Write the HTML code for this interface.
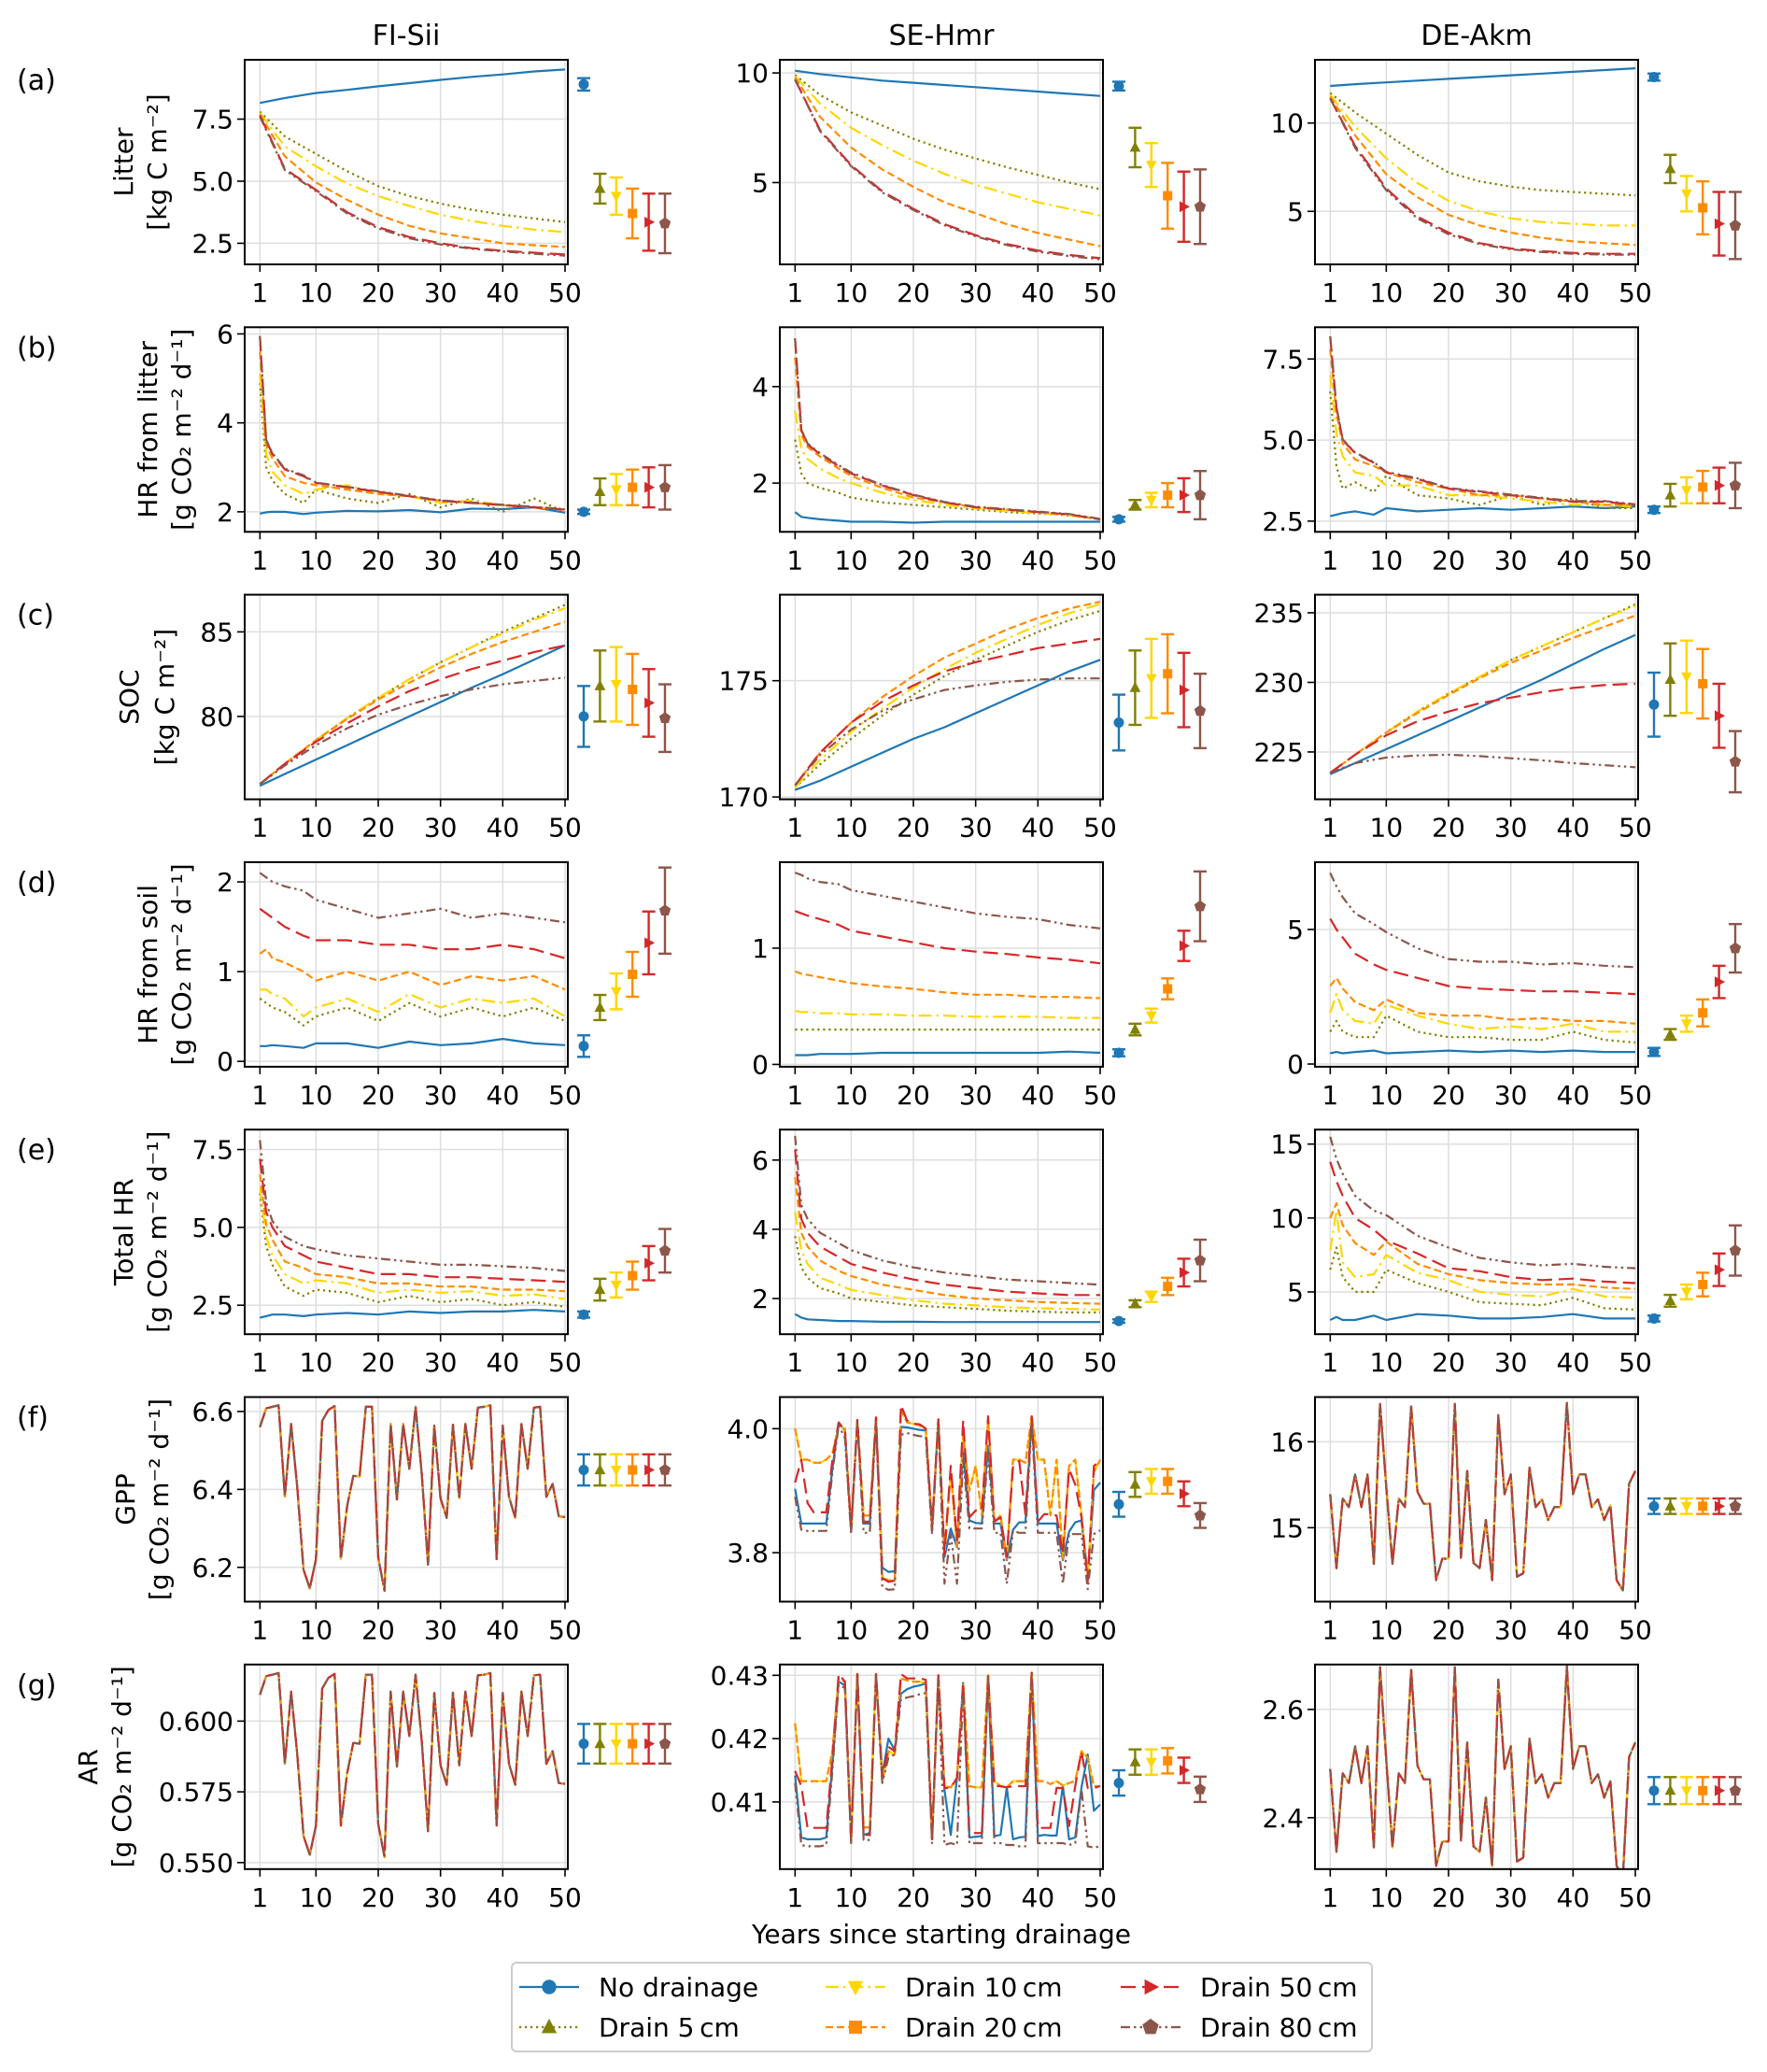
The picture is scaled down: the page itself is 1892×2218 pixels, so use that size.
<!DOCTYPE html>
<html><head><meta charset="utf-8"><title>Drainage simulations</title>
<style>
html,body{margin:0;padding:0;background:#fff;}
svg{display:block;font-family:"DejaVu Sans","Liberation Sans",sans-serif;}
</style></head>
<body>
<svg id="fig" xmlns="http://www.w3.org/2000/svg" width="1892" height="2218" viewBox="0 0 1892 2218">
<rect x="0" y="0" width="1892" height="2218" fill="#fff"/>
<g id="panels"></g>
<text x="1008" y="2080" font-size="28" text-anchor="middle">Years since starting drainage</text>
<g>
<rect x="548" y="2101" width="921" height="95" rx="5" fill="#fff" stroke="#ccc" stroke-width="2"/>
<g id="legendItems"></g>
</g>
</svg>
<script>
const years=[1,2,3,4,5,6,7,8,9,10,11,12,13,14,15,16,17,18,19,20,21,22,23,24,25,26,27,28,29,30,31,32,33,34,35,36,37,38,39,40,41,42,43,44,45,46,47,48,49,50];
const yrsS=[1,5,10,15,20,25,30,35,40,45,50];
const yrsH=[1,2,3,5,8,10,15,20,25,30,35,40,45,50];
const seriesNames=["No drainage","Drain 5cm","Drain 10cm","Drain 20cm","Drain 50cm","Drain 80cm"];

// (a) Litter
const litFI_none=[8.15,8.35,8.55,8.68,8.82,8.95,9.08,9.2,9.3,9.42,9.5];
const litFI_d5=[7.8,6.8,6.1,5.4,4.8,4.4,4.1,3.85,3.65,3.5,3.35];
const litFI_d10=[7.75,6.4,5.6,4.9,4.4,4.0,3.65,3.4,3.2,3.05,2.95];
const litFI_d20=[7.7,6.0,4.95,4.25,3.65,3.2,2.9,2.7,2.5,2.42,2.35];
const litFI_d50=[7.65,5.5,4.65,3.75,3.15,2.75,2.5,2.3,2.2,2.12,2.05];
const litFI_d80=[7.6,5.45,4.6,3.7,3.1,2.7,2.45,2.28,2.17,2.08,2.0];
const litFI_mean=[8.9,4.7,4.4,3.7,3.35,3.3];
const litFI_err=[0.25,0.6,0.75,1.0,1.15,1.2];
const litSE_none=[10.1,9.95,9.8,9.65,9.55,9.45,9.35,9.25,9.15,9.05,8.95];
const litSE_d5=[9.9,9.0,8.2,7.6,7.0,6.5,6.1,5.7,5.35,5.0,4.7];
const litSE_d10=[9.85,8.6,7.5,6.7,6.0,5.4,4.9,4.5,4.1,3.8,3.5];
const litSE_d20=[9.8,8.0,6.6,5.6,4.8,4.1,3.6,3.1,2.7,2.4,2.1];
const litSE_d50=[9.7,7.4,5.8,4.6,3.8,3.1,2.6,2.2,1.9,1.7,1.55];
const litSE_d80=[9.7,7.35,5.75,4.55,3.75,3.05,2.55,2.15,1.85,1.65,1.5];
const litSE_mean=[9.4,6.6,5.8,4.4,3.9,3.9];
const litSE_err=[0.2,0.9,1.0,1.5,1.6,1.7];
const litDE_none=[12.1,12.2,12.3,12.4,12.5,12.6,12.7,12.8,12.9,13.0,13.1];
const litDE_d5=[11.7,10.6,9.4,8.2,7.2,6.7,6.4,6.2,6.1,6.0,5.9];
const litDE_d10=[11.6,9.8,8.0,6.6,5.6,5.0,4.6,4.4,4.3,4.2,4.2];
const litDE_d20=[11.5,9.3,7.1,5.8,4.8,4.2,3.8,3.5,3.3,3.2,3.1];
const litDE_d50=[11.4,8.7,6.3,4.7,3.8,3.2,2.9,2.75,2.65,2.6,2.6];
const litDE_d80=[11.4,8.6,6.2,4.6,3.7,3.15,2.85,2.7,2.6,2.55,2.55];
const litDE_mean=[12.6,7.4,6.0,5.2,4.3,4.2];
const litDE_err=[0.2,0.8,1.0,1.5,1.8,1.9];

// (b) HR from litter
const hrlFI_none=[1.96,1.99,2.0,2.0,1.95,1.98,2.02,2.01,2.04,1.99,2.07,2.06,2.1,1.98];
const hrlFI_d5=[4.9,3.0,2.7,2.4,2.2,2.5,2.3,2.2,2.4,2.1,2.3,2.0,2.3,2.0];
const hrlFI_d10=[5.1,3.3,2.9,2.6,2.4,2.5,2.6,2.4,2.35,2.2,2.25,2.15,2.1,2.05];
const hrlFI_d20=[5.6,3.5,3.2,2.8,2.65,2.6,2.5,2.4,2.35,2.25,2.2,2.15,2.1,2.05];
const hrlFI_d50=[5.95,3.6,3.3,2.95,2.8,2.65,2.55,2.45,2.35,2.25,2.2,2.15,2.1,2.05];
const hrlFI_d80=[5.95,3.62,3.32,2.97,2.82,2.66,2.56,2.46,2.36,2.26,2.21,2.16,2.11,2.06];
const hrlFI_mean=[2.0,2.45,2.5,2.55,2.55,2.55];
const hrlFI_err=[0.05,0.3,0.35,0.4,0.45,0.5];
const hrlSE_none=[1.4,1.3,1.28,1.25,1.22,1.2,1.2,1.18,1.2,1.2,1.2,1.2,1.2,1.2];
const hrlSE_d5=[2.9,2.2,2.0,1.9,1.8,1.7,1.6,1.55,1.5,1.45,1.4,1.37,1.33,1.25];
const hrlSE_d10=[3.5,2.7,2.5,2.3,2.1,2.0,1.8,1.65,1.55,1.48,1.42,1.38,1.33,1.25];
const hrlSE_d20=[4.6,3.0,2.75,2.55,2.3,2.15,1.9,1.7,1.6,1.5,1.45,1.4,1.35,1.25];
const hrlSE_d50=[5.0,3.1,2.8,2.6,2.35,2.2,1.95,1.75,1.6,1.5,1.45,1.4,1.35,1.25];
const hrlSE_d80=[5.0,3.12,2.82,2.62,2.37,2.22,1.96,1.76,1.61,1.51,1.46,1.41,1.36,1.26];
const hrlSE_mean=[1.25,1.55,1.65,1.75,1.75,1.75];
const hrlSE_err=[0.05,0.1,0.15,0.25,0.35,0.5];
const hrlDE_none=[2.65,2.7,2.75,2.8,2.7,2.9,2.8,2.85,2.9,2.85,2.9,2.95,2.9,2.95];
const hrlDE_d5=[6.5,4.2,3.5,3.7,3.4,3.9,3.3,3.2,3.0,3.3,3.0,3.2,2.9,2.9];
const hrlDE_d10=[7.0,5.2,4.5,4.0,3.9,3.6,3.6,3.3,3.3,3.2,3.1,3.0,3.0,2.95];
const hrlDE_d20=[7.8,5.8,4.9,4.4,4.2,4.0,3.7,3.5,3.3,3.3,3.2,3.1,3.0,3.0];
const hrlDE_d50=[8.2,6.0,5.0,4.6,4.3,4.0,3.8,3.5,3.4,3.3,3.2,3.1,3.1,3.0];
const hrlDE_d80=[8.2,6.02,5.02,4.62,4.32,4.02,3.82,3.52,3.42,3.32,3.22,3.12,3.12,3.02];
const hrlDE_mean=[2.85,3.3,3.45,3.55,3.6,3.6];
const hrlDE_err=[0.1,0.35,0.4,0.5,0.55,0.7];

// (c) SOC
const socFI_none=[75.9,76.6,77.45,78.3,79.15,80.0,80.85,81.7,82.5,83.35,84.2];
const socFI_d5=[76.0,77.2,78.6,79.9,81.1,82.2,83.2,84.1,85.0,85.8,86.6];
const socFI_d10=[76.0,77.2,78.6,79.9,81.1,82.2,83.2,84.1,84.9,85.7,86.4];
const socFI_d20=[76.0,77.2,78.6,79.85,81.0,82.0,82.9,83.7,84.4,85.0,85.6];
const socFI_d50=[76.0,77.2,78.5,79.6,80.6,81.5,82.2,82.8,83.3,83.8,84.2];
const socFI_d80=[76.0,77.1,78.3,79.3,80.1,80.7,81.2,81.6,81.9,82.1,82.3];
const socFI_mean=[80.0,81.8,81.9,81.6,80.8,79.9];
const socFI_err=[1.8,2.1,2.2,2.1,2.0,2.0];
const socSE_none=[170.3,170.7,171.3,171.9,172.5,173.0,173.6,174.2,174.8,175.4,175.9];
const socSE_d5=[170.4,171.4,172.5,173.5,174.4,175.2,175.9,176.5,177.1,177.6,178.0];
const socSE_d10=[170.4,171.6,172.8,173.8,174.7,175.5,176.2,176.8,177.4,177.9,178.3];
const socSE_d20=[170.5,171.9,173.2,174.3,175.2,176.0,176.6,177.2,177.7,178.1,178.4];
const socSE_d50=[170.5,171.9,173.2,174.1,174.8,175.4,175.8,176.1,176.4,176.6,176.8];
const socSE_d80=[170.5,171.8,172.9,173.7,174.2,174.6,174.8,174.95,175.05,175.1,175.1];
const socSE_mean=[173.2,174.7,175.1,175.3,174.6,173.7];
const socSE_err=[1.2,1.6,1.7,1.7,1.6,1.6];
const socDE_none=[223.4,224.2,225.2,226.2,227.2,228.2,229.2,230.2,231.3,232.4,233.4];
const socDE_d5=[223.5,224.8,226.4,227.9,229.2,230.4,231.6,232.6,233.6,234.6,235.6];
const socDE_d10=[223.5,224.8,226.4,227.9,229.2,230.4,231.6,232.6,233.6,234.6,235.5];
const socDE_d20=[223.5,224.8,226.4,227.8,229.1,230.3,231.4,232.3,233.2,234.0,234.8];
const socDE_d50=[223.5,224.8,226.2,227.2,227.9,228.5,228.9,229.3,229.6,229.8,229.9];
const socDE_d80=[223.5,224.2,224.6,224.75,224.8,224.7,224.55,224.4,224.2,224.05,223.9];
const socDE_mean=[228.4,230.2,230.4,229.9,227.6,224.3];
const socDE_err=[2.3,2.6,2.6,2.5,2.3,2.2];

// (d) HR from soil
const hrsFI_none=[0.17,0.17,0.18,0.17,0.15,0.2,0.2,0.15,0.22,0.18,0.2,0.25,0.2,0.18];
const hrsFI_d5=[0.7,0.65,0.6,0.55,0.4,0.5,0.6,0.45,0.65,0.5,0.6,0.5,0.6,0.45];
const hrsFI_d10=[0.8,0.8,0.75,0.7,0.5,0.6,0.7,0.55,0.75,0.6,0.7,0.65,0.7,0.5];
const hrsFI_d20=[1.2,1.25,1.15,1.1,1.0,0.9,1.0,0.9,1.0,0.85,0.95,0.9,0.95,0.8];
const hrsFI_d50=[1.7,1.65,1.6,1.5,1.4,1.35,1.35,1.3,1.3,1.25,1.25,1.3,1.25,1.15];
const hrsFI_d80=[2.1,2.05,2.0,1.95,1.9,1.8,1.7,1.6,1.65,1.7,1.6,1.65,1.6,1.55];
const hrsFI_mean=[0.17,0.6,0.78,0.97,1.32,1.68];
const hrsFI_err=[0.12,0.14,0.2,0.25,0.35,0.48];
const hrsSE_none=[0.08,0.08,0.08,0.09,0.09,0.09,0.1,0.1,0.1,0.1,0.1,0.1,0.11,0.1];
const hrsSE_d5=[0.3,0.3,0.3,0.3,0.3,0.3,0.3,0.3,0.3,0.3,0.3,0.3,0.3,0.3];
const hrsSE_d10=[0.46,0.45,0.45,0.44,0.44,0.43,0.43,0.42,0.42,0.41,0.41,0.41,0.4,0.4];
const hrsSE_d20=[0.8,0.78,0.77,0.75,0.72,0.7,0.67,0.65,0.62,0.6,0.6,0.58,0.58,0.57];
const hrsSE_d50=[1.32,1.3,1.28,1.25,1.2,1.15,1.1,1.05,1.0,0.97,0.95,0.92,0.9,0.87];
const hrsSE_d80=[1.65,1.63,1.6,1.57,1.55,1.5,1.45,1.4,1.35,1.3,1.27,1.25,1.2,1.17];
const hrsSE_mean=[0.1,0.3,0.42,0.65,1.02,1.36];
const hrsSE_err=[0.03,0.05,0.06,0.09,0.13,0.3];
const hrsDE_none=[0.4,0.45,0.4,0.45,0.5,0.4,0.45,0.5,0.45,0.5,0.45,0.5,0.45,0.45];
const hrsDE_d5=[1.2,1.6,1.2,1.0,1.0,1.8,1.2,1.0,1.0,0.9,0.9,1.2,0.9,0.8];
const hrsDE_d10=[1.9,2.6,2.0,1.6,1.5,2.2,1.8,1.5,1.3,1.4,1.3,1.5,1.2,1.2];
const hrsDE_d20=[2.9,3.2,2.8,2.3,2.0,2.4,1.9,1.8,1.8,1.65,1.7,1.6,1.6,1.5];
const hrsDE_d50=[5.4,5.0,4.7,4.1,3.7,3.5,3.2,2.9,2.8,2.75,2.7,2.7,2.65,2.6];
const hrsDE_d80=[7.1,6.6,6.2,5.6,5.2,4.9,4.3,3.9,3.8,3.8,3.7,3.75,3.65,3.6];
const hrsDE_mean=[0.45,1.1,1.5,1.9,3.05,4.3];
const hrsDE_err=[0.15,0.2,0.3,0.5,0.6,0.9];

// (e) Total HR
const thrFI_none=[2.1,2.15,2.2,2.2,2.15,2.2,2.25,2.2,2.3,2.25,2.3,2.3,2.35,2.3];
const thrFI_d5=[6.1,4.4,3.8,3.1,2.8,3.0,2.9,2.6,2.8,2.6,2.7,2.5,2.6,2.45];
const thrFI_d10=[6.3,4.7,4.1,3.5,3.2,3.3,3.2,2.9,3.0,2.9,2.95,2.8,2.85,2.7];
const thrFI_d20=[6.7,5.1,4.6,3.9,3.7,3.5,3.4,3.2,3.2,3.1,3.1,3.0,3.0,2.95];
const thrFI_d50=[7.2,5.5,5.0,4.4,4.1,3.9,3.7,3.5,3.5,3.4,3.4,3.35,3.3,3.25];
const thrFI_d80=[7.8,5.8,5.2,4.7,4.4,4.3,4.1,4.0,3.9,3.8,3.8,3.75,3.7,3.6];
const thrFI_mean=[2.2,3.0,3.15,3.45,3.85,4.25];
const thrFI_err=[0.1,0.35,0.4,0.45,0.55,0.7];
const thrSE_none=[1.55,1.45,1.4,1.38,1.35,1.35,1.33,1.33,1.32,1.32,1.32,1.32,1.32,1.32];
const thrSE_d5=[3.8,2.9,2.6,2.3,2.15,2.0,1.9,1.8,1.75,1.7,1.65,1.62,1.6,1.6];
const thrSE_d10=[4.5,3.4,3.0,2.6,2.4,2.25,2.1,1.95,1.85,1.8,1.75,1.72,1.7,1.68];
const thrSE_d20=[5.5,3.9,3.5,3.1,2.8,2.65,2.4,2.25,2.1,2.0,1.95,1.9,1.87,1.85];
const thrSE_d50=[6.3,4.3,3.9,3.5,3.2,3.0,2.75,2.55,2.4,2.3,2.2,2.15,2.1,2.1];
const thrSE_d80=[6.7,4.7,4.3,3.9,3.6,3.4,3.1,2.9,2.75,2.65,2.55,2.5,2.45,2.4];
const thrSE_mean=[1.35,1.85,2.05,2.35,2.75,3.1];
const thrSE_err=[0.05,0.1,0.15,0.25,0.4,0.6];
const thrDE_none=[3.1,3.3,3.1,3.1,3.4,3.1,3.5,3.4,3.2,3.2,3.3,3.5,3.2,3.2];
const thrDE_d5=[6.5,8.0,6.0,5.0,5.0,6.5,5.6,5.0,4.3,4.2,4.1,4.6,3.9,3.8];
const thrDE_d10=[7.8,10.5,7.0,6.0,6.2,7.5,6.3,5.8,5.0,4.8,4.7,5.2,4.7,4.6];
const thrDE_d20=[10.0,11.0,9.5,8.3,7.5,8.4,6.9,6.2,5.8,5.6,5.5,5.5,5.3,5.2];
const thrDE_d50=[13.8,12.5,11.5,10.0,9.2,8.5,7.6,6.6,6.4,6.0,5.8,5.9,5.7,5.6];
const thrDE_d80=[15.5,14.0,13.0,11.5,10.5,10.2,8.8,8.0,7.3,7.0,6.8,6.9,6.7,6.6];
const thrDE_mean=[3.2,4.4,5.0,5.5,6.5,7.8];
const thrDE_err=[0.2,0.4,0.5,0.8,1.1,1.7];

// (f) GPP
const gppFI=[6.56,6.608,6.612,6.616,6.382,6.568,6.405,6.194,6.146,6.221,6.576,6.604,6.614,6.221,6.357,6.435,6.433,6.612,6.612,6.225,6.14,6.568,6.374,6.568,6.453,6.612,6.437,6.207,6.564,6.377,6.327,6.566,6.377,6.568,6.453,6.61,6.612,6.616,6.221,6.564,6.381,6.327,6.568,6.453,6.61,6.612,6.381,6.414,6.331,6.329];
const gppFI_mean=[6.45,6.45,6.45,6.45,6.45,6.45];
const gppFI_err=[0.04,0.04,0.04,0.04,0.04,0.04];
const gppSE_none=[3.903,3.847,3.847,3.847,3.847,3.847,3.936,4.010,3.997,3.837,4.014,3.847,3.847,4.018,3.776,3.769,3.770,4.003,4.002,4.000,3.998,3.997,3.839,4.015,3.793,3.839,3.809,3.964,3.852,3.848,3.847,3.972,3.847,3.847,3.788,3.837,3.849,3.849,4.020,3.847,3.847,3.847,3.847,3.788,3.834,3.849,3.852,3.763,3.901,3.913];
const gppSE_dry=[4.000,3.950,3.950,3.945,3.945,3.950,3.960,4.005,4.000,3.840,4.014,3.860,3.860,4.018,3.760,3.755,3.755,4.030,4.010,4.008,4.005,4.000,3.840,4.015,3.800,3.930,3.810,3.990,3.900,3.940,3.860,4.015,3.850,3.860,3.790,3.950,3.950,3.945,4.020,3.950,3.950,3.860,3.950,3.790,3.940,3.950,3.860,3.760,3.930,3.950];
const gppSE_d50=[3.913,3.950,3.880,3.865,3.865,3.865,3.950,4.010,3.997,3.837,4.014,3.850,3.850,4.018,3.759,3.753,3.755,4.038,4.013,4.008,4.007,4.000,3.840,4.015,3.798,3.940,3.820,4.013,3.857,3.868,3.868,4.020,3.850,3.857,3.793,3.940,3.948,3.862,4.020,3.850,3.862,3.862,3.860,3.798,3.935,3.910,3.857,3.754,3.940,3.948];
const gppSE_d80=[3.890,3.837,3.835,3.835,3.835,3.835,3.930,4.005,3.985,3.830,4.010,3.832,3.832,4.010,3.745,3.740,3.741,3.990,3.993,3.990,3.988,3.987,3.830,4.010,3.750,3.830,3.750,3.950,3.839,3.839,3.839,3.960,3.832,3.832,3.750,3.835,3.832,3.832,4.010,3.832,3.832,3.832,3.832,3.750,3.830,3.830,3.830,3.741,3.830,3.836];
const gppSE_mean=[3.878,3.91,3.915,3.915,3.895,3.86];
const gppSE_err=[0.02,0.02,0.02,0.02,0.02,0.02];
const gppDE=[15.39,14.53,15.34,15.24,15.62,15.24,15.62,14.58,16.44,15.48,14.58,15.34,15.24,16.41,15.42,15.28,15.28,14.39,14.64,14.64,16.44,14.65,15.66,14.59,14.53,15.09,14.39,16.31,15.39,15.62,14.43,14.47,15.70,15.24,15.33,15.09,15.24,15.24,16.45,15.39,15.62,15.62,15.24,15.33,15.09,15.26,14.39,14.27,15.51,15.66];
const gppDE_mean=[15.25,15.25,15.25,15.25,15.25,15.25];
const gppDE_err=[0.09,0.09,0.09,0.09,0.09,0.09];

// (g) AR
const arFI=[0.6093,0.6159,0.6164,0.617,0.585,0.6104,0.5882,0.5594,0.5528,0.5631,0.6115,0.6153,0.6167,0.5631,0.5816,0.5923,0.592,0.6164,0.6164,0.5636,0.552,0.6104,0.5839,0.6104,0.5947,0.6164,0.5925,0.5611,0.6099,0.5844,0.5775,0.6101,0.5844,0.6104,0.5947,0.6162,0.6164,0.617,0.5631,0.6099,0.5849,0.5775,0.6104,0.5947,0.6162,0.6164,0.5849,0.5894,0.5781,0.5778];
const arFI_mean=[0.592,0.592,0.592,0.592,0.592,0.592];
const arFI_err=[0.007,0.007,0.007,0.007,0.007,0.007];
const arSE_none=[0.4142,0.4044,0.4041,0.4041,0.4041,0.4044,0.416,0.429,0.4284,0.4039,0.4302,0.4048,0.4051,0.4302,0.4142,0.420,0.4182,0.4271,0.4278,0.4282,0.4284,0.4287,0.4041,0.430,0.4119,0.4048,0.4138,0.4288,0.4044,0.4045,0.4046,0.430,0.4046,0.4048,0.4123,0.4041,0.4044,0.4045,0.4304,0.4046,0.4048,0.4047,0.4047,0.4126,0.4041,0.4044,0.4123,0.4175,0.4086,0.4096];
const arSE_dry=[0.4224,0.4133,0.4133,0.4133,0.4133,0.4133,0.418,0.4295,0.429,0.4039,0.4302,0.406,0.406,0.4302,0.4133,0.418,0.4175,0.4295,0.4292,0.429,0.429,0.4288,0.4041,0.430,0.4125,0.4123,0.4138,0.4288,0.4125,0.4123,0.4123,0.430,0.4133,0.4125,0.4123,0.4133,0.4133,0.4133,0.4304,0.4133,0.4133,0.4128,0.4133,0.4126,0.413,0.4133,0.418,0.417,0.4125,0.4125];
const arSE_d50=[0.4149,0.4125,0.4059,0.4059,0.4059,0.4059,0.417,0.4302,0.429,0.4039,0.4302,0.4048,0.4048,0.4302,0.4138,0.4187,0.418,0.4302,0.4295,0.4295,0.4295,0.4293,0.4041,0.430,0.4122,0.4122,0.4138,0.4288,0.4051,0.4051,0.4051,0.430,0.4125,0.4125,0.4123,0.4125,0.4125,0.4125,0.4304,0.4059,0.4059,0.4059,0.4122,0.4122,0.4062,0.4125,0.418,0.4122,0.4122,0.4125];
const arSE_d80=[0.413,0.4032,0.403,0.403,0.403,0.4032,0.415,0.4285,0.428,0.4035,0.4298,0.404,0.404,0.4298,0.413,0.417,0.4175,0.4262,0.4265,0.4267,0.427,0.4272,0.4035,0.4295,0.4032,0.4035,0.4032,0.428,0.4035,0.4035,0.4035,0.4298,0.4035,0.4035,0.4032,0.4032,0.403,0.403,0.430,0.4035,0.4035,0.4035,0.4035,0.4035,0.4032,0.4035,0.412,0.403,0.4028,0.403];
const arSE_mean=[0.413,0.4163,0.4163,0.4165,0.415,0.412];
const arSE_err=[0.002,0.002,0.002,0.002,0.002,0.002];
const arDE=[2.49,2.337,2.482,2.464,2.532,2.464,2.532,2.345,2.678,2.507,2.345,2.482,2.464,2.673,2.496,2.471,2.471,2.311,2.356,2.356,2.678,2.358,2.539,2.347,2.337,2.437,2.311,2.655,2.49,2.532,2.319,2.326,2.546,2.464,2.48,2.437,2.464,2.464,2.68,2.49,2.532,2.532,2.464,2.48,2.437,2.467,2.311,2.29,2.512,2.539];
const arDE_mean=[2.45,2.45,2.45,2.45,2.45,2.45];
const arDE_err=[0.025,0.025,0.025,0.025,0.025,0.025];

const xTicks=[1,10,20,30,40,50];
const colors=["#1f77b4","#808000","#ffd700","#ff8c00","#d62728","#8c564b"];
const dashes=["","2.2,3.8","14,5,2.5,5","8,4","16,7","10,4,2.5,4,2.5,4"];
const markers=["circle","tri-up","tri-down","square","tri-right","pentagon"];

const rowLabels=["(a)","(b)","(c)","(d)","(e)","(f)","(g)"];
const yTitle1=["Litter","HR from litter","SOC","HR from soil","Total HR","GPP","AR"];
const unitC="[kg C m⁻²]", unitF="[g CO₂ m⁻² d⁻¹]";
const yTitle2=[unitC,unitF,unitC,unitF,unitF,unitF,unitF];
const sites=["FI-Sii","SE-Hmr","DE-Akm"];
const titleX1=[132,158,138,158,132,134,94];
const titleX2=[168,194,176,194,168,170,130];

const panels=[
 {r:0,c:0,x:yrsS,s:[litFI_none,litFI_d5,litFI_d10,litFI_d20,litFI_d50,litFI_d80],m:litFI_mean,e:litFI_err,lo:1.65,hi:9.89,t:[2.5,5,7.5],tl:["2.5","5.0","7.5"]},
 {r:0,c:1,x:yrsS,s:[litSE_none,litSE_d5,litSE_d10,litSE_d20,litSE_d50,litSE_d80],m:litSE_mean,e:litSE_err,lo:1.27,hi:10.6,t:[5,10],tl:["5","10"]},
 {r:0,c:2,x:yrsS,s:[litDE_none,litDE_d5,litDE_d10,litDE_d20,litDE_d50,litDE_d80],m:litDE_mean,e:litDE_err,lo:2.0,hi:13.58,t:[5,10],tl:["5","10"]},
 {r:1,c:0,x:yrsH,s:[hrlFI_none,hrlFI_d5,hrlFI_d10,hrlFI_d20,hrlFI_d50,hrlFI_d80],m:hrlFI_mean,e:hrlFI_err,lo:1.55,hi:6.15,t:[2,4,6],tl:["2","4","6"]},
 {r:1,c:1,x:yrsH,s:[hrlSE_none,hrlSE_d5,hrlSE_d10,hrlSE_d20,hrlSE_d50,hrlSE_d80],m:hrlSE_mean,e:hrlSE_err,lo:0.99,hi:5.23,t:[2,4],tl:["2","4"]},
 {r:1,c:2,x:yrsH,s:[hrlDE_none,hrlDE_d5,hrlDE_d10,hrlDE_d20,hrlDE_d50,hrlDE_d80],m:hrlDE_mean,e:hrlDE_err,lo:2.17,hi:8.48,t:[2.5,5,7.5],tl:["2.5","5.0","7.5"]},
 {r:2,c:0,x:yrsS,s:[socFI_none,socFI_d5,socFI_d10,socFI_d20,socFI_d50,socFI_d80],m:socFI_mean,e:socFI_err,lo:75.1,hi:87.2,t:[80,85],tl:["80","85"]},
 {r:2,c:1,x:yrsS,s:[socSE_none,socSE_d5,socSE_d10,socSE_d20,socSE_d50,socSE_d80],m:socSE_mean,e:socSE_err,lo:169.9,hi:178.7,t:[170,175],tl:["170","175"]},
 {r:2,c:2,x:yrsS,s:[socDE_none,socDE_d5,socDE_d10,socDE_d20,socDE_d50,socDE_d80],m:socDE_mean,e:socDE_err,lo:221.6,hi:236.3,t:[225,230,235],tl:["225","230","235"]},
 {r:3,c:0,x:yrsH,s:[hrsFI_none,hrsFI_d5,hrsFI_d10,hrsFI_d20,hrsFI_d50,hrsFI_d80],m:hrsFI_mean,e:hrsFI_err,lo:-0.06,hi:2.22,t:[0,1,2],tl:["0","1","2"]},
 {r:3,c:1,x:yrsH,s:[hrsSE_none,hrsSE_d5,hrsSE_d10,hrsSE_d20,hrsSE_d50,hrsSE_d80],m:hrsSE_mean,e:hrsSE_err,lo:-0.02,hi:1.74,t:[0,1],tl:["0","1"]},
 {r:3,c:2,x:yrsH,s:[hrsDE_none,hrsDE_d5,hrsDE_d10,hrsDE_d20,hrsDE_d50,hrsDE_d80],m:hrsDE_mean,e:hrsDE_err,lo:-0.1,hi:7.5,t:[0,5],tl:["0","5"]},
 {r:4,c:0,x:yrsH,s:[thrFI_none,thrFI_d5,thrFI_d10,thrFI_d20,thrFI_d50,thrFI_d80],m:thrFI_mean,e:thrFI_err,lo:1.57,hi:8.14,t:[2.5,5,7.5],tl:["2.5","5.0","7.5"]},
 {r:4,c:1,x:yrsH,s:[thrSE_none,thrSE_d5,thrSE_d10,thrSE_d20,thrSE_d50,thrSE_d80],m:thrSE_mean,e:thrSE_err,lo:0.97,hi:6.88,t:[2,4,6],tl:["2","4","6"]},
 {r:4,c:2,x:yrsH,s:[thrDE_none,thrDE_d5,thrDE_d10,thrDE_d20,thrDE_d50,thrDE_d80],m:thrDE_mean,e:thrDE_err,lo:2.14,hi:15.98,t:[5,10,15],tl:["5","10","15"]},
 {r:5,c:0,x:years,s:[gppFI,gppFI,gppFI,gppFI,gppFI,gppFI],m:gppFI_mean,e:gppFI_err,lo:6.112,hi:6.637,t:[6.2,6.4,6.6],tl:["6.2","6.4","6.6"]},
 {r:5,c:1,x:years,s:[gppSE_none,gppSE_dry,gppSE_dry,gppSE_dry,gppSE_d50,gppSE_d80],m:gppSE_mean,e:gppSE_err,lo:3.721,hi:4.051,t:[3.8,4.0],tl:["3.8","4.0"]},
 {r:5,c:2,x:years,s:[gppDE,gppDE,gppDE,gppDE,gppDE,gppDE],m:gppDE_mean,e:gppDE_err,lo:14.14,hi:16.52,t:[15,16],tl:["15","16"]},
 {r:6,c:0,x:years,s:[arFI,arFI,arFI,arFI,arFI,arFI],m:arFI_mean,e:arFI_err,lo:0.5477,hi:0.620,t:[0.55,0.575,0.6],tl:["0.550","0.575","0.600"]},
 {r:6,c:1,x:years,s:[arSE_none,arSE_dry,arSE_dry,arSE_dry,arSE_d50,arSE_d80],m:arSE_mean,e:arSE_err,lo:0.3994,hi:0.4317,t:[0.41,0.42,0.43],tl:["0.41","0.42","0.43"]},
 {r:6,c:2,x:years,s:[arDE,arDE,arDE,arDE,arDE,arDE],m:arDE_mean,e:arDE_err,lo:2.305,hi:2.683,t:[2.4,2.6],tl:["2.4","2.6"]}
];

const NS="http://www.w3.org/2000/svg";
const colLeft=[262,835,1408], W=346, H=219, top0=64, pitch=286.3;
function mk(tag,attrs,parent){const e=document.createElementNS(NS,tag);for(const k in attrs)e.setAttribute(k,attrs[k]);if(parent)parent.appendChild(e);return e;}

function drawMarker(g,type,cx,cy,col,sz){
  let el;
  if(type==="circle") el=mk("circle",{cx:cx,cy:cy,r:sz*0.55,fill:col},g);
  else if(type==="square") el=mk("rect",{x:cx-sz*0.5,y:cy-sz*0.5,width:sz,height:sz,fill:col},g);
  else {
    let pts;
    const s=sz*0.65;
    if(type==="tri-up") pts=[[cx,cy-s],[cx-s*0.9,cy+s*0.7],[cx+s*0.9,cy+s*0.7]];
    else if(type==="tri-down") pts=[[cx,cy+s],[cx-s*0.9,cy-s*0.7],[cx+s*0.9,cy-s*0.7]];
    else if(type==="tri-right") pts=[[cx+s,cy],[cx-s*0.7,cy-s*0.9],[cx-s*0.7,cy+s*0.9]];
    else {pts=[];for(let i=0;i<5;i++){const a=-Math.PI/2+i*2*Math.PI/5;pts.push([cx+s*Math.cos(a),cy+s*Math.sin(a)]);}}
    el=mk("polygon",{points:pts.map(p=>p[0].toFixed(1)+","+p[1].toFixed(1)).join(" "),fill:col},g);
  }
  return el;
}

const root=document.getElementById("panels");
sites.forEach((s,c)=>{
  const t=mk("text",{x:colLeft[c]+W/2,y:48,"font-size":30,"text-anchor":"middle"},root);
  t.textContent=s;
  
  
});
for(let r=0;r<7;r++){
  const top=top0+r*pitch;
  const rl=mk("text",{x:18,y:top+32,"font-size":30},root);
  rl.textContent=rowLabels[r];
  
  
  const cy=top+H/2;
  const t1=mk("text",{transform:"translate("+(titleX1[r]+10)+","+cy+") rotate(-90)","font-size":28,"text-anchor":"middle"},root);
  t1.textContent=yTitle1[r];
  
  
  const t2=mk("text",{transform:"translate("+(titleX2[r]+10)+","+cy+") rotate(-90)","font-size":28,"text-anchor":"middle"},root);
  t2.textContent=yTitle2[r];
  
  
}

panels.forEach((p,pi)=>{
  const L=colLeft[p.c], T=top0+p.r*pitch;
  const xs=v=>L+(v+1.45)/51.9*W;
  const ys=v=>T+H-(v-p.lo)/(p.hi-p.lo)*H;
  const g=mk("g",{},root);
  
  
  const cid="clip"+pi;
  const cp=mk("clipPath",{id:cid},g); mk("rect",{x:L,y:T,width:W,height:H},cp);
  xTicks.forEach(v=>{
    const gl=mk("line",{x1:xs(v),x2:xs(v),y1:T,y2:T+H,stroke:"#dedede","stroke-width":1.5},g);
    
    
    const tk=mk("line",{x1:xs(v),x2:xs(v),y1:T+H,y2:T+H+8,stroke:"#000","stroke-width":1.6},g);
    
    
    const tl=mk("text",{x:xs(v),y:T+H+40,"font-size":28,"text-anchor":"middle"},g);
    tl.textContent=String(v);
    
    
  });
  p.t.forEach((v,i)=>{
    const gl=mk("line",{x1:L,x2:L+W,y1:ys(v),y2:ys(v),stroke:"#dedede","stroke-width":1.5},g);
    
    
    const tk=mk("line",{x1:L-8,x2:L,y1:ys(v),y2:ys(v),stroke:"#000","stroke-width":1.6},g);
    
    
    const tl=mk("text",{x:L-12,y:ys(v)+10,"font-size":28,"text-anchor":"end"},g);
    tl.textContent=p.tl[i];
    
    
  });
  const lg=mk("g",{"clip-path":"url(#"+cid+")"},g);
  p.s.forEach((arr,si)=>{
    const d=arr.map((v,i)=>(i?"L":"M")+xs(p.x[i]).toFixed(1)+","+ys(v).toFixed(1)).join("");
    const a={d:d,fill:"none",stroke:colors[si],"stroke-width":2.2,"stroke-linejoin":"round"};
    if(dashes[si]) a["stroke-dasharray"]=dashes[si];
    const path=mk("path",a,lg);
    
    
  });
  const fr=mk("rect",{x:L,y:T,width:W,height:H,fill:"none",stroke:"#000","stroke-width":2},g);
  
  
  p.m.forEach((mv,i)=>{
    const ex=L+W+17+i*17.4, col=colors[i];
    const eg=mk("g",{},g);
    
    
    const y1=ys(mv+p.e[i]), y2=ys(mv-p.e[i]);
    mk("line",{x1:ex,x2:ex,y1:y1,y2:y2,stroke:col,"stroke-width":2.4},eg);
    mk("line",{x1:ex-7,x2:ex+7,y1:y1,y2:y1,stroke:col,"stroke-width":2.4},eg);
    mk("line",{x1:ex-7,x2:ex+7,y1:y2,y2:y2,stroke:col,"stroke-width":2.4},eg);
    drawMarker(eg,markers[i],ex,ys(mv),col,10);
  });
});

const li=document.getElementById("legendItems");
const legX=[556,884,1200], legY=[2127,2170];
seriesNames.forEach((n,i)=>{
  const c=Math.floor(i/2), r=i%2;
  const x=legX[c], y=legY[r];
  const g=mk("g",{},li);
  
  
  const a={x1:x,x2:x+64,y1:y,y2:y,stroke:colors[i],"stroke-width":2.2};
  if(dashes[i]) a["stroke-dasharray"]=dashes[i];
  mk("line",a,g);
  drawMarker(g,markers[i],x+32,y,colors[i],14);
  const t=mk("text",{x:x+85,y:y+10,"font-size":28},g);
  t.textContent=n.replace("cm"," cm").replace(/(\d) cm/,"$1\u2009cm");
});
</script>
</body></html>
